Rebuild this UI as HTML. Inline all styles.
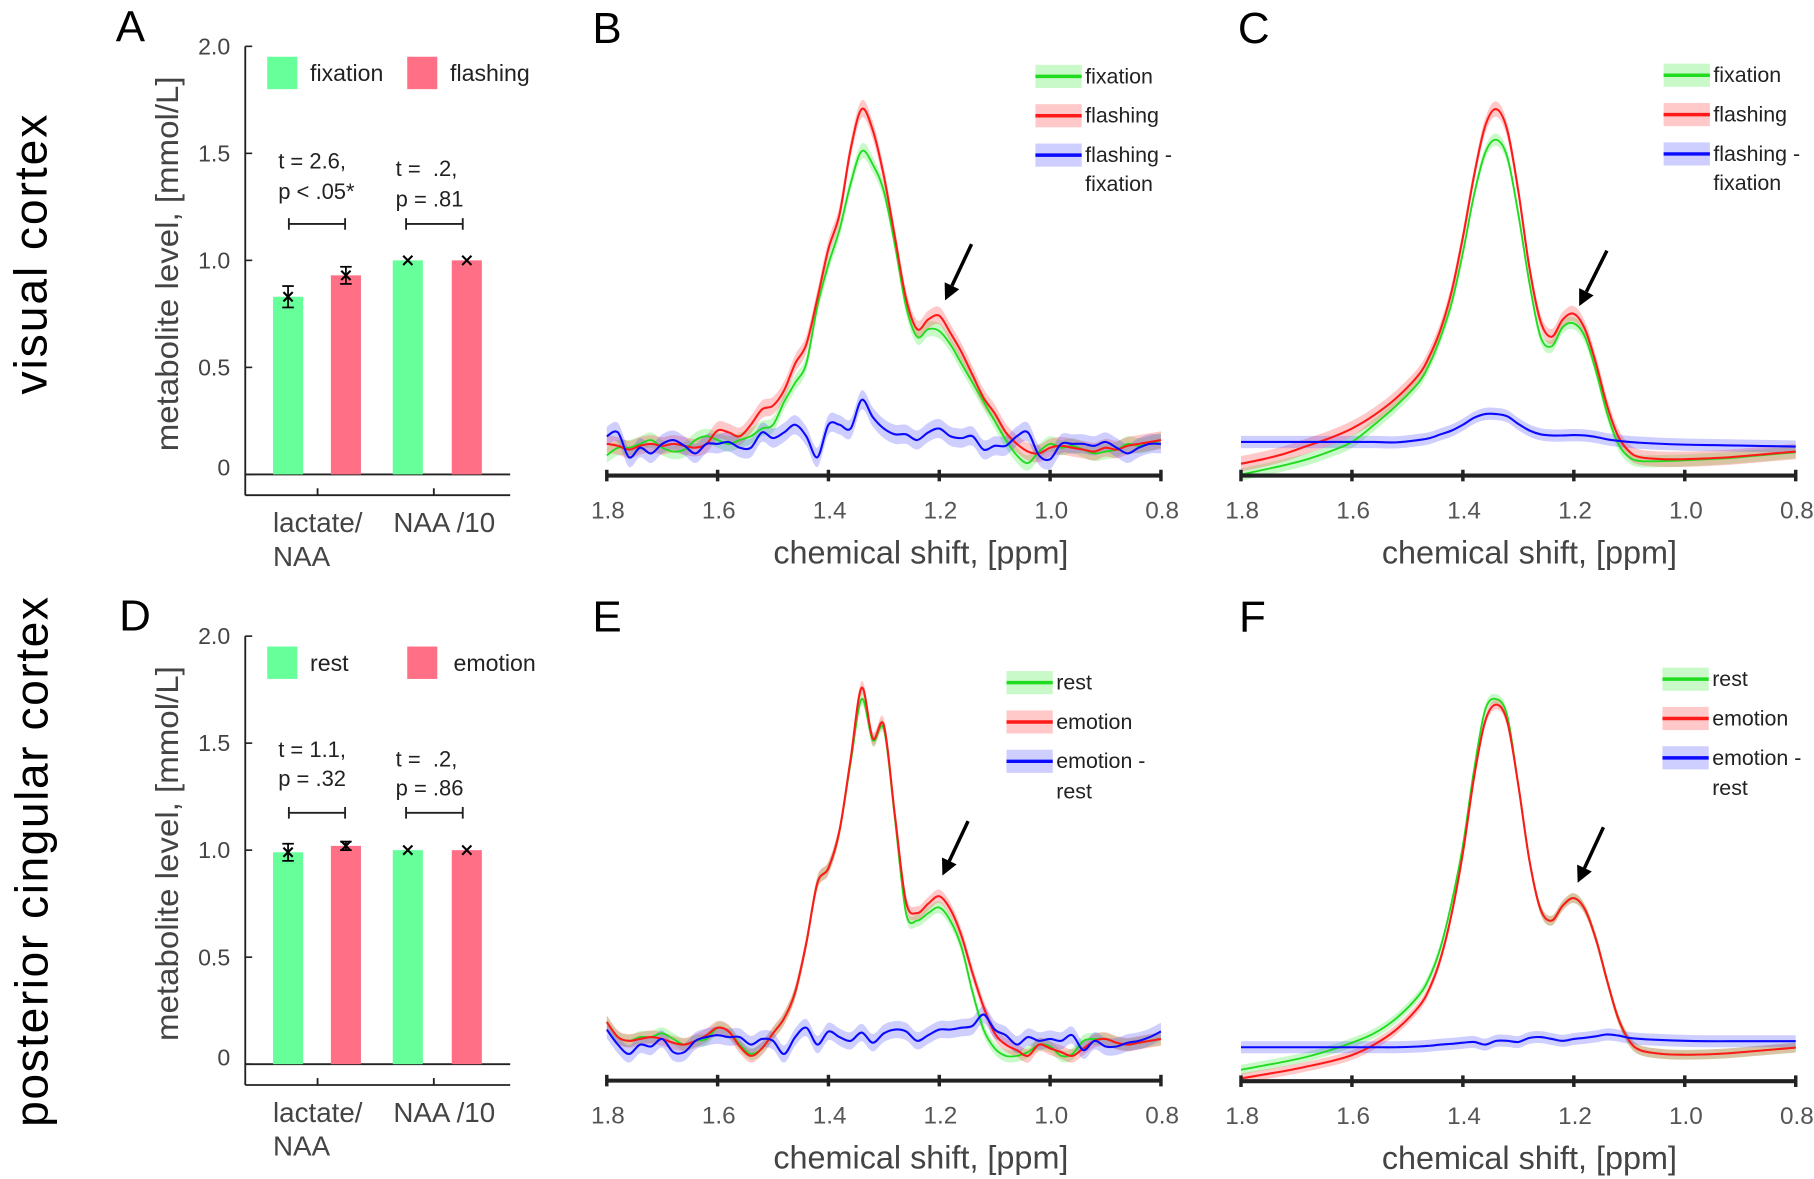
<!DOCTYPE html>
<html><head><meta charset="utf-8">
<style>
html,body{margin:0;padding:0;background:#fff;}
svg{display:block;font-family:"Liberation Sans",sans-serif;}
</style></head>
<body>
<svg id="fig" width="1814" height="1179" viewBox="0 0 1568 1019" xmlns="http://www.w3.org/2000/svg">
<g id="static">
<text transform="translate(40,220) rotate(-90)" text-anchor="middle" font-size="40" textLength="242" fill="#000">visual cortex</text>
<text transform="translate(41,745) rotate(-90)" text-anchor="middle" font-size="40" textLength="458" fill="#000">posterior cingular cortex</text>
<text x="100" y="36" font-size="38">A</text>
<text x="512" y="37" font-size="38">B</text>
<text x="1070" y="37" font-size="38">C</text>
<text x="103" y="545" font-size="38">D</text>
<text x="512" y="546" font-size="38">E</text>
<text x="1071" y="546" font-size="38">F</text>
</g>
<g id="plots"></g>
</svg>
<script>
// ---------- bar chart data ----------
const barCategories = ['lactate/NAA', 'NAA /10'];
const barTicks = [0, 0.5, 1.0, 1.5, 2.0];
const barTickLabels = ['0', '0.5', '1.0', '1.5', '2.0'];
const aLegend = ['fixation', 'flashing'];
const aFixation = [0.83, 1.0];
const aFlashing = [0.93, 1.0];
const aFixationErr = [0.05, 0.0];
const aFlashingErr = [0.04, 0.0];
const aStats = [['t = 2.6,', 'p < .05*'], ['t =\u00a0\u00a0.2,', 'p = .81']];
const dLegend = ['rest', 'emotion'];
const dRest = [0.99, 1.0];
const dEmotion = [1.02, 1.0];
const dRestErr = [0.04, 0.0];
const dEmotionErr = [0.02, 0.0];
const dStats = [['t = 1.1,', 'p = .32'], ['t =\u00a0\u00a0.2,', 'p = .86']];

// ---------- spectra data ----------
const ppmTicks = [1.8, 1.6, 1.4, 1.2, 1.0, 0.8];
const ppmTickLabels = ['1.8', '1.6', '1.4', '1.2', '1.0', '0.8'];
const ppmFine = [1.80,1.78,1.76,1.74,1.72,1.70,1.68,1.66,1.64,1.62,1.60,1.58,1.56,1.54,1.52,1.50,1.48,1.46,1.44,1.42,1.40,1.38,1.36,1.34,1.32,1.30,1.28,1.26,1.24,1.22,1.20,1.18,1.16,1.14,1.12,1.10,1.08,1.06,1.04,1.02,1.00,0.98,0.96,0.94,0.92,0.90,0.88,0.86,0.84,0.82,0.80];
const ppmCoarse = [1.80,1.76,1.72,1.68,1.64,1.60,1.56,1.52,1.48,1.46,1.44,1.42,1.40,1.38,1.36,1.34,1.32,1.30,1.28,1.26,1.24,1.22,1.20,1.18,1.16,1.14,1.12,1.10,1.08,1.04,1.00,0.96,0.92,0.88,0.84,0.80];

const bFlashing = [10,9.5,8.5,9.5,10,9.5,10,9.5,9,10, 13.5,13,12,15,19,20,24,31,36,48, 61,70,87,97.5,92,80,64,48,40,42.5, 43.5,39,34,28,22,18,13,10,8,7.5, 9,9.5,9,8.5,8,9,8.5,9.5,10,10.5, 11];
const bFixation = [7,9,9,10,11,9,8,8.5,11,12, 11,10,11,12,14,15,21,26,31,46, 57,66,78,86.5,83,76,62,46,38,40, 39.5,36,31,26,21,16,11,7,5,8, 10,9,9.5,8.5,7.5,8,8.5,10,9.5,10, 11];
const bDiff = [12,13,6.5,9,7.5,10,11,9.5,7.5,10, 10,10.5,9,9,13,11.5,13,15,12,6.5, 15,15,14,21.5,17,14,12.5,12.5,11,13, 14,12,11.5,12,8.5,9.5,9.5,12,13,7, 6,10,10,10,9.5,10.5,9,7.5,9,10, 10];

const eEmotion = [17,13,12,12.5,13,12.5,11.5,11,12,13.5, 15.5,14.5,10.5,8,10,14,18,25,38,54, 58,68,87,106,92.5,96,72,49,46,48.5, 50.5,47,40,30,21,14,11,9.5,8,11, 10,9,8,10,12,12.5,11.5,11,11.5,12, 12.5];
const eRest = [17,13,12,13,13,14,12.5,11,12,12.5, 15.5,14.5,11,8.5,10,14,18,25,38,54, 58,68,86,103,92,95,71,46,44,46, 47.5,44,37,25,15,10,8,8,9,11, 10.5,8,8.5,12,12.5,12.5,11.5,11,11.5,12, 12.5];
const eDiff = [15,11,8.5,11,10.5,12.5,9,9,12,13, 13.5,13,13,11,12.5,12,8.5,13,15.5,11, 14.5,13,12,14.2,11.5,14,15,14.5,12,13.5, 15,15,15.5,16,19,15,13.5,11,13,12, 12.5,12,13.5,9.5,12,10.5,10.5,11.5,12,13, 14.5];

const cFlashing = [4.8,6,7.5,9.5,11.5,14,17.5,22,28,33,40,50,64,80,93,97.5,92,76,56,42,38,42.5,44,40,31,20,12,8,6.5,6,6,6.2,6.5,7,7.5,8];
const cFixation = [2,3.2,4.5,6,8,10.5,15,20,26,31,38,47,60,75,86,89.5,85,70,52,38,35.5,40.5,41.5,38,29,18,10,6.5,5.5,5.5,5.7,6,6.3,6.8,7.3,7.8];
const cDiff = [10.5,10.5,10.5,10.5,10.5,10.5,10.5,10.4,11,11.5,12.5,13.5,15,16.8,17.8,17.8,17.2,15.2,13.5,12.5,12.2,12.2,12.3,12.2,11.8,11.2,10.8,10.5,10.3,10,9.8,9.7,9.6,9.5,9.4,9.3];

const fEmotion = [2,3,4,5.2,6.5,8.2,11,15,21,26,34,46,62,82,97,101.5,97,80,60,47,44,48,50,47,39,28,18,12,9.5,8.5,8.3,8.4,8.7,9.2,9.7,10.2];
const fRest = [4.3,5.4,6.5,7.8,9.5,11.5,14,18,24,29,37,49,64,84,100,103,98.5,80,60,47,44,48,50,47,39,28,18,12,9.5,8.5,8.3,8.4,8.7,9.2,9.7,10.2];
const fDiff = [10.3,10.3,10.3,10.3,10.3,10.3,10.3,10.3,10.5,10.7,11,11.2,11.5,11.7,11,12,12,11.7,12.8,13,12.5,12,12.5,12.8,13.2,13.7,13.4,12.8,12.5,12.2,12,11.9,11.9,11.9,11.9,11.9];

const NS = 'http://www.w3.org/2000/svg';
const plots = document.getElementById('plots');
function mk(tag, attrs, parent) {
  const e = document.createElementNS(NS, tag);
  for (const k in attrs) e.setAttribute(k, attrs[k]);
  (parent || plots).appendChild(e);
  return e;
}
function txt(x, y, s, size, fill, anchor, parent) {
  const t = mk('text', {x: x, y: y, 'font-size': size, fill: fill, 'text-anchor': anchor || 'start'}, parent);
  t.textContent = s;
  return t;
}
function smoothPath(pts) {
  let d = 'M' + pts[0][0].toFixed(2) + ',' + pts[0][1].toFixed(2);
  for (let i = 0; i < pts.length - 1; i++) {
    const p0 = pts[Math.max(i - 1, 0)], p1 = pts[i], p2 = pts[i + 1], p3 = pts[Math.min(i + 2, pts.length - 1)];
    const c1x = p1[0] + (p2[0] - p0[0]) / 6, c1y = p1[1] + (p2[1] - p0[1]) / 6;
    const c2x = p2[0] - (p3[0] - p1[0]) / 6, c2y = p2[1] - (p3[1] - p1[1]) / 6;
    d += ' C' + c1x.toFixed(2) + ',' + c1y.toFixed(2) + ' ' + c2x.toFixed(2) + ',' + c2y.toFixed(2) + ' ' + p2[0].toFixed(2) + ',' + p2[1].toFixed(2);
  }
  return d;
}

// ---------- bar panel ----------
function barPanel(cfg) {
  const g = mk('g', {});
  
  
  const y0 = cfg.y0, k = 185;
  const yS = v => y0 - v * k;
  const axL = 212, axR = 441;
  const ya = mk('line', {x1: axL, y1: yS(2.0), x2: axL, y2: y0 + 18, stroke: '#222', 'stroke-width': 1.6}, g);
  
  
  barTicks.forEach((t, i) => {
    mk('line', {x1: axL, y1: yS(t), x2: axL + 6, y2: yS(t), stroke: '#222', 'stroke-width': 1.4}, g);
    const tl = txt(axL - 13, yS(t) + 7 - (t === 0 ? 6 : 0), barTickLabels[i], 20, '#444', 'end', g);
    
    
  });
  mk('line', {x1: axL, y1: y0, x2: axR, y2: y0, stroke: '#222', 'stroke-width': 1.6}, g);
  const xa = mk('line', {x1: axL, y1: y0 + 18, x2: axR, y2: y0 + 18, stroke: '#222', 'stroke-width': 1.6}, g);
  
  
  const groupCenters = [274.5, 375];
  groupCenters.forEach(c => mk('line', {x1: c, y1: y0 + 18, x2: c, y2: y0 + 12, stroke: '#222', 'stroke-width': 1.6}, g));
  const yt = mk('text', {transform: 'translate(154,' + (y0 - 182) + ') rotate(-90)', 'font-size': 27, fill: '#444', 'text-anchor': 'middle', textLength: 324, lengthAdjust: 'spacingAndGlyphs'}, g);
  yt.textContent = 'metabolite level, [mmol/L]';
  
  
  const c1 = txt(236, y0 + 50, 'lactate/', 24, '#444', 'start', g);
  
  
  const c1b = txt(236, y0 + 79, 'NAA', 24, '#444', 'start', g);
  
  
  const c2 = txt(340, y0 + 50, 'NAA /10', 24, '#444', 'start', g);
  
  
  const barW = 26;
  const centers = [[249, 299], [352.5, 403.5]];
  const cols = ['#66ff99', '#ff6f86'];
  const series = [cfg.s1, cfg.s2], errs = [cfg.e1, cfg.e2];
  barCategories.forEach((cat, ci) => {
    for (let si = 0; si < 2; si++) {
      const v = series[si][ci], cx = centers[ci][si];
      const r = mk('rect', {x: cx - barW / 2, y: yS(v), width: barW, height: y0 - yS(v), fill: cols[si]}, g);
      
      
      const e = errs[si][ci];
      if (e > 0) {
        mk('line', {x1: cx, y1: yS(v + e), x2: cx, y2: yS(v - e), stroke: '#000', 'stroke-width': 1.5}, g);
        mk('line', {x1: cx - 5, y1: yS(v + e), x2: cx + 5, y2: yS(v + e), stroke: '#000', 'stroke-width': 1.5}, g);
        mk('line', {x1: cx - 5, y1: yS(v - e), x2: cx + 5, y2: yS(v - e), stroke: '#000', 'stroke-width': 1.5}, g);
      }
      const yy = yS(v);
      mk('path', {d: 'M' + (cx - 4) + ',' + (yy - 4) + 'L' + (cx + 4) + ',' + (yy + 4) + 'M' + (cx + 4) + ',' + (yy - 4) + 'L' + (cx - 4) + ',' + (yy + 4), stroke: '#000', 'stroke-width': 1.8}, g);
    }
  });
  const lx = [[231, 268], [352, 389]];
  for (let si = 0; si < 2; si++) {
    const sq = mk('rect', {x: lx[si][0], y: y0 - 361, width: 26, height: 28, fill: cols[si]}, g);
    
    
    const lt = txt(lx[si][1] + (si === 1 && cfg.legend[si] === 'emotion' ? 3 : 0), y0 - 340, cfg.legend[si], 20, '#222', 'start', g);
    
    
  }
  const ax = [240.5, 342], br = [[249.7, 298.3], [351, 400]];
  const dy = cfg.statDy;
  for (let i = 0; i < 2; i++) {
    const a1 = txt(ax[i], y0 - dy[i][0], cfg.stats[i][0], 19, '#222', 'start', g);
    
    
    const a2 = txt(ax[i], y0 - dy[i][1], cfg.stats[i][1], 19, '#222', 'start', g);
    
    
    const by = y0 - cfg.bracketDy;
    const b = mk('path', {d: 'M' + br[i][0] + ',' + (by - 5) + 'V' + (by + 5) + 'M' + br[i][0] + ',' + by + 'H' + br[i][1] + 'M' + br[i][1] + ',' + (by - 5) + 'V' + (by + 5), stroke: '#222', 'stroke-width': 1.6, fill: 'none'}, g);
    
    
  }
}
barPanel({name: 'panel-a-bar-chart', y0: 410, s1: aFixation, s2: aFlashing, e1: aFixationErr, e2: aFlashingErr, legend: aLegend, stats: aStats, statDy: [[264.5, 238], [258, 231.4]], bracketDy: 216.5});
barPanel({name: 'panel-d-bar-chart', y0: 919.8, s1: dRest, s2: dEmotion, e1: dRestErr, e2: dEmotionErr, legend: dLegend, stats: dStats, statDy: [[265.3, 240.3], [257.2, 232.2]], bracketDy: 217.3});

// ---------- spectrum panel ----------
function spectrumPanel(cfg) {
  const g = mk('g', {});
  
  
  const xS = p => cfg.x0 + (1.8 - p) * cfg.kx;
  const yS = v => cfg.yBase - v * cfg.ky;
  const ser = [
    {vals: cfg.green, ppm: cfg.ppm, line: '#1fdc1f', band: 'rgba(40,230,40,0.25)', bw: cfg.bw[0], lw: 1.6},
    {vals: cfg.red, ppm: cfg.ppm, line: '#ff1a1a', band: 'rgba(255,60,60,0.28)', bw: cfg.bw[1], lw: 1.8},
    {vals: cfg.blue, ppm: cfg.ppm, line: '#0a0aff', band: 'rgba(60,60,255,0.25)', bw: cfg.bw[2], lw: 1.8}
  ];
  ser.forEach((s, si) => {
    const up = s.ppm.map((p, i) => [xS(p), yS(s.vals[i] + s.bw)]);
    const dn = s.ppm.map((p, i) => [xS(p), yS(s.vals[i] - s.bw)]).reverse();
    const bandD = smoothPath(up) + ' L' + smoothPath(dn).slice(1) + ' Z';
    const band = mk('path', {d: bandD, fill: s.band, stroke: 'none'}, g);
    
    
  });
  ser.forEach((s, si) => {
    const pts = s.ppm.map((p, i) => [xS(p), yS(s.vals[i])]);
    const ln = mk('path', {d: smoothPath(pts), fill: 'none', stroke: s.line, 'stroke-width': s.lw}, g);
    
    
  });
  const ax = mk('line', {x1: xS(1.8) - 1, y1: cfg.axisY, x2: xS(0.8) + 1, y2: cfg.axisY, stroke: '#222', 'stroke-width': 3.5}, g);
  
  
  ppmTicks.forEach((t, i) => {
    mk('line', {x1: xS(t), y1: cfg.axisY - 5, x2: xS(t), y2: cfg.axisY + 5, stroke: '#222', 'stroke-width': 3}, g);
    const tl = txt(xS(t) + 1, cfg.axisY + 37, ppmTickLabels[i], 21, '#555', 'middle', g);
    
    
  });
  const title = txt(cfg.titleX, cfg.axisY + 76, 'chemical shift, [ppm]', 28, '#444', 'middle', g);
  
  
  const a = cfg.arrow;
  const ang = Math.atan2(a[3] - a[1], a[2] - a[0]);
  const hl = 14, hw = 7;
  const bx = a[2] - hl * Math.cos(ang), by = a[3] - hl * Math.sin(ang);
  const arr = mk('g', {}, g);
  
  
  mk('line', {x1: a[0], y1: a[1], x2: bx, y2: by, stroke: '#000', 'stroke-width': 3}, arr);
  mk('path', {d: 'M' + a[2] + ',' + a[3] + 'L' + (bx + hw * Math.sin(ang)) + ',' + (by - hw * Math.cos(ang)) + 'L' + (bx - hw * Math.sin(ang)) + ',' + (by + hw * Math.cos(ang)) + 'Z', fill: '#000'}, arr);
  const L = cfg.legend;
  const sw = [['rgba(40,230,40,0.25)', '#1fdc1f'], ['rgba(255,60,60,0.28)', '#ff1a1a'], ['rgba(60,60,255,0.25)', '#0a0aff']];
  for (let i = 0; i < 3; i++) {
    const yy = L.ys[i];
    const entry = mk('g', {}, g);
    
    
    mk('rect', {x: L.x, y: yy - 10, width: 40, height: 20, fill: sw[i][0]}, entry);
    mk('line', {x1: L.x, y1: yy, x2: L.x + 40, y2: yy, stroke: sw[i][1], 'stroke-width': 3}, entry);
    txt(L.x + 43, yy + 6, cfg.labels[i] + (i === 2 ? ' -' : ''), 18.5, '#222', 'start', entry);
  }
  const l2 = txt(L.x + 43, L.ys[3] + 6, cfg.labels[0], 18.5, '#222', 'start', g);
  
  
}
spectrumPanel({name: 'panel-b-spectrum', x0: 524.5, kx: 479, yBase: 416.7, ky: 3.307, axisY: 411, ppm: ppmFine, titleX: 796,
  green: bFixation, red: bFlashing, blue: bDiff, bw: [2, 2.3, 2.5], labels: ['fixation', 'flashing', 'flashing'],
  arrow: [839.8, 211, 816.9, 259.6], legend: {x: 895, ys: [66, 100, 134, 159]}});
spectrumPanel({name: 'panel-c-spectrum', x0: 1072.7, kx: 479.5, yBase: 416.7, ky: 3.307, axisY: 411, ppm: ppmCoarse, titleX: 1322,
  green: cFixation, red: cFlashing, blue: cDiff, bw: [1.6, 2, 1.6], labels: ['fixation', 'flashing', 'flashing'],
  arrow: [1389, 216.6, 1365, 264.6], legend: {x: 1438, ys: [65, 99, 133, 158]}});
spectrumPanel({name: 'panel-e-spectrum', x0: 524.5, kx: 479, yBase: 938.6, ky: 3.247, axisY: 934, ppm: ppmFine, titleX: 796,
  green: eRest, red: eEmotion, blue: eDiff, bw: [1.6, 1.8, 2.3], labels: ['rest', 'emotion', 'emotion'],
  arrow: [836.8, 709.7, 814.6, 756.8], legend: {x: 870, ys: [590, 624, 658, 684]}});
spectrumPanel({name: 'panel-f-spectrum', x0: 1072.7, kx: 479.5, yBase: 938.6, ky: 3.247, axisY: 934.5, ppm: ppmCoarse, titleX: 1322,
  green: fRest, red: fEmotion, blue: fDiff, bw: [1.3, 1.3, 1.6], labels: ['rest', 'emotion', 'emotion'],
  arrow: [1386, 715, 1363.7, 763], legend: {x: 1437, ys: [587, 621, 655, 681]}});
</script>
</body></html>
